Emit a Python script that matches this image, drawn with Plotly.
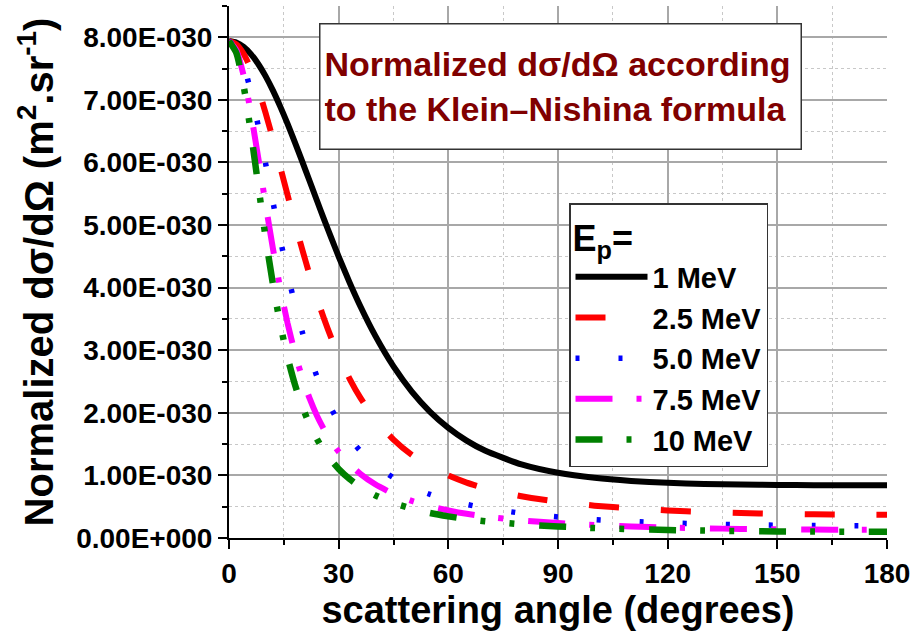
import plotly.graph_objects as go

# scattering angle (degrees)
angles = [0, 2, 4, 6, 8, 10, 12, 14, 16, 18, 20, 22, 24, 26, 28, 30, 33, 36, 40, 45,
          50, 55, 60, 65, 70, 80, 90, 100, 110, 120, 130, 140, 150, 160, 170, 180]

# normalized dσ/dΩ in units of 1e-30 m^2/sr
ep_1 = [7.941, 7.917, 7.847, 7.731, 7.574, 7.379, 7.151, 6.896, 6.619, 6.325, 6.021, 5.711,
        5.400, 5.091, 4.790, 4.497, 4.081, 3.695, 3.233, 2.741, 2.339, 2.016, 1.759, 1.556,
        1.397, 1.176, 1.042, 0.961, 0.912, 0.882, 0.864, 0.853, 0.847, 0.844, 0.842, 0.841]
ep_2_5 = [7.941, 7.889, 7.737, 7.493, 7.173, 6.794, 6.374, 5.932, 5.484, 5.042, 4.617, 4.216,
          3.844, 3.502, 3.192, 2.911, 2.544, 2.235, 1.897, 1.572, 1.328, 1.142, 0.998, 0.886,
          0.797, 0.667, 0.579, 0.517, 0.473, 0.440, 0.416, 0.399, 0.386, 0.378, 0.373, 0.371]
ep_5 = [7.941, 7.842, 7.559, 7.124, 6.583, 5.986, 5.375, 4.784, 4.234, 3.739, 3.301, 2.919,
        2.589, 2.306, 2.063, 1.854, 1.594, 1.386, 1.167, 0.963, 0.812, 0.697, 0.607, 0.537,
        0.480, 0.396, 0.337, 0.295, 0.265, 0.242, 0.225, 0.213, 0.204, 0.198, 0.195, 0.194]
ep_7_5 = [7.941, 7.796, 7.389, 6.786, 6.075, 5.337, 4.631, 3.993, 3.437, 2.965, 2.568, 2.238,
          1.962, 1.733, 1.540, 1.378, 1.179, 1.021, 0.858, 0.705, 0.593, 0.507, 0.440, 0.387,
          0.345, 0.282, 0.238, 0.207, 0.184, 0.167, 0.155, 0.145, 0.139, 0.134, 0.132, 0.131]
ep_10 = [7.941, 7.751, 7.225, 6.476, 5.634, 4.808, 4.061, 3.422, 2.891, 2.458, 2.107, 1.821,
         1.588, 1.396, 1.237, 1.104, 0.942, 0.814, 0.682, 0.559, 0.468, 0.399, 0.346, 0.303,
         0.269, 0.219, 0.184, 0.159, 0.141, 0.128, 0.118, 0.110, 0.105, 0.102, 0.100, 0.099]

series_names = ["1 MeV", "2.5 MeV", "5.0 MeV", "7.5 MeV", "10 MeV"]
series_values = [ep_1, ep_2_5, ep_5, ep_7_5, ep_10]

y_tick_values = [0, 1, 2, 3, 4, 5, 6, 7, 8]
y_tick_labels = ["0.00E+000", "1.00E-030", "2.00E-030", "3.00E-030", "4.00E-030",
                 "5.00E-030", "6.00E-030", "7.00E-030", "8.00E-030"]
x_tick_values = [0, 30, 60, 90, 120, 150, 180]

UNIT = 1e-30

styles = [
    dict(color="black", width=6, dash="solid"),
    dict(color="#ff0000", width=6, dash="30px,42px"),
    dict(color="#0000ff", width=5.5, dash="4px,39px"),
    dict(color="#ff00ff", width=6, dash="37px,24px,5px,25px"),
    dict(color="#008000", width=6.5, dash="27px,24px,5px,24px,5px,25px"),
]

FONT = "Liberation Sans, Arial, sans-serif"

fig = go.Figure()
for name, vals, st in zip(series_names, series_values, styles):
    fig.add_trace(go.Scatter(
        x=angles, y=[v * UNIT for v in vals], mode="lines", name=name,
        line=dict(color=st["color"], width=st["width"], dash=st["dash"], shape="spline", smoothing=0.6),
    ))

fig.update_layout(
    width=916, height=635,
    margin=dict(l=229, r=29, t=6, b=97),
    paper_bgcolor="white", plot_bgcolor="white",
    font=dict(family=FONT, size=28, color="black", weight="bold"),
    showlegend=True,
    legend=dict(
        x=(569 - 229) / 658, y=(537.7 - 203) / 531.7, xanchor="left", yanchor="top",
        bgcolor="white", bordercolor="#333333", borderwidth=1.5,
        font=dict(family=FONT, size=29, color="black", weight="bold"),
        title=dict(text="E<sub>p</sub>=", font=dict(family=FONT, size=36, color="black", weight="bold")),
        itemwidth=72, tracegroupgap=0,
    ),
    xaxis=dict(
        range=[0, 180], tickvals=x_tick_values, ticks="outside", ticklen=9, tickwidth=2,
        tickcolor="black", showline=True, linecolor="black", linewidth=2,
        showgrid=True, gridcolor="#a8a8a8", gridwidth=1.5, zeroline=False,
        tickfont=dict(family=FONT, size=28, color="black", weight="bold"),
        title=dict(text="scattering angle (degrees)", standoff=4,
                   font=dict(family=FONT, size=38, color="black", weight="bold")),
        minor=dict(tick0=0, dtick=15, ticks="outside", ticklen=5, tickwidth=2, tickcolor="black",
                   showgrid=True, gridcolor="#c8c8c8", gridwidth=1, griddash="dot"),
    ),
    yaxis=dict(
        range=[0, 8.5 * UNIT], tickvals=[v * UNIT for v in y_tick_values], ticktext=y_tick_labels,
        ticks="outside", ticklen=9, tickwidth=2, tickcolor="black",
        showline=True, linecolor="black", linewidth=2,
        showgrid=True, gridcolor="#a8a8a8", gridwidth=1.5, zeroline=False,
        tickfont=dict(family=FONT, size=28, color="black", weight="bold"),
        title=dict(text="Normalized dσ/dΩ (m<sup>2</sup>.sr<sup>-1</sup>)", standoff=10,
                   font=dict(family=FONT, size=40, color="black", weight="bold")),
        minor=dict(tick0=0, dtick=0.5 * UNIT, ticks="outside", ticklen=5, tickwidth=2, tickcolor="black",
                   showgrid=True, gridcolor="#c8c8c8", gridwidth=1, griddash="dot"),
    ),
)

fig.add_annotation(
    x=(560 - 229) / 658, y=(537.7 - 86) / 531.7, xref="paper", yref="paper",
    xanchor="center", yanchor="middle",
    text="Normalized dσ/dΩ according<br>to the Klein–Nishina formula",
    showarrow=False, align="left", width=472, height=116, borderpad=4,
    bgcolor="white", bordercolor="#333333", borderwidth=1.5,
    font=dict(family=FONT, size=34, color="#800000", weight="bold"),
)

fig.write_html("out.html")
